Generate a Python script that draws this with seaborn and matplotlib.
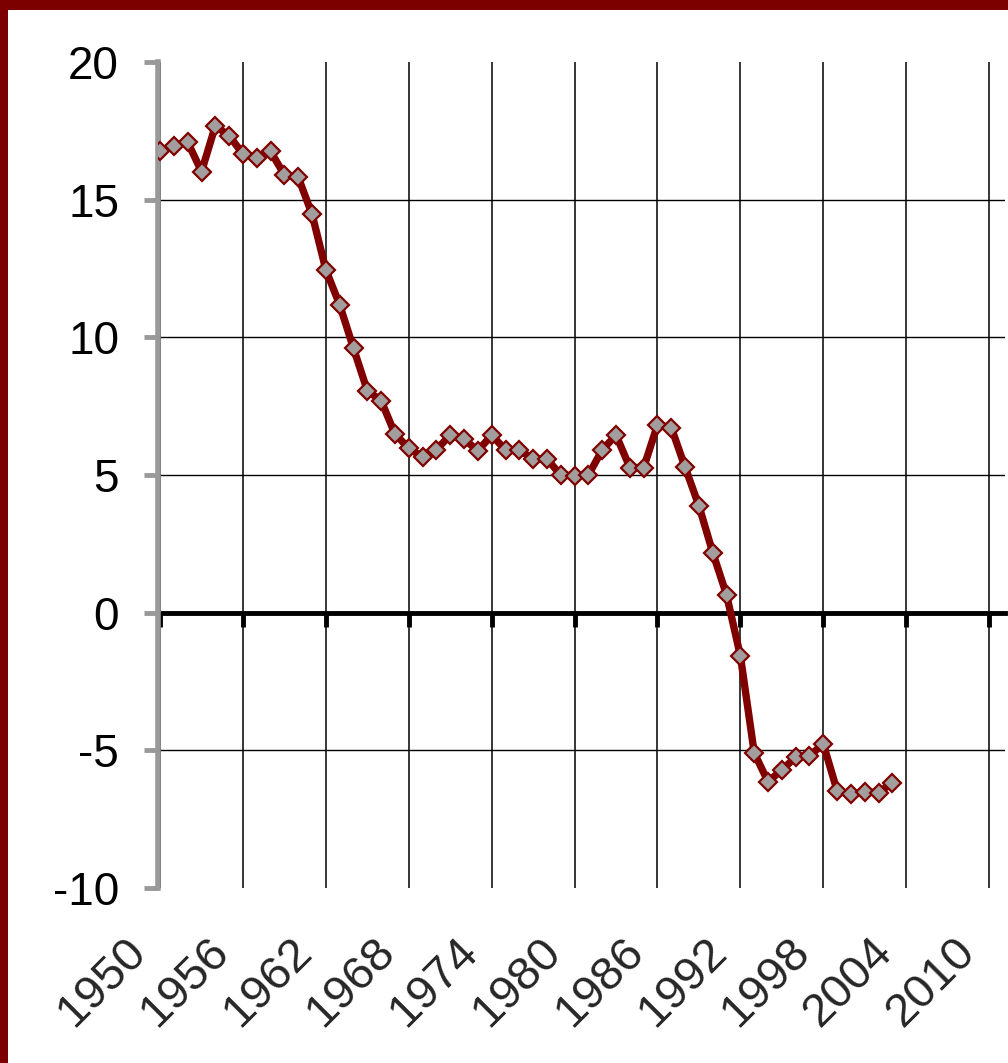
import matplotlib
matplotlib.use("Agg")
import matplotlib.pyplot as plt
import matplotlib.transforms as mtransforms
from matplotlib.patches import Rectangle
import seaborn as sns

# yearly values
years = list(range(1950, 2004))
values = [16.75, 16.96, 17.09, 16.02, 17.68, 17.32, 16.66, 16.50, 16.75, 15.90,
          15.81, 14.47, 12.45, 11.18, 9.60, 8.06, 7.70, 6.49, 5.97, 5.65,
          5.92, 6.45, 6.30, 5.88, 6.45, 5.91, 5.91, 5.58, 5.58, 5.00,
          4.97, 5.00, 5.91, 6.45, 5.27, 5.27, 6.82, 6.72, 5.28, 3.88,
          2.18, 0.64, -1.57, -5.09, -6.14, -5.71, -5.25, -5.20, -4.77, -6.47,
          -6.59, -6.50, -6.54, -6.17]
x_ticks = list(range(1950, 2011, 6))
y_ticks = [-10, -5, 0, 5, 10, 15, 20]

sns.set_style("white")
plt.rcParams['font.family'] = ['Liberation Sans', 'DejaVu Sans']
plt.rcParams['axes.unicode_minus'] = False

W, H = 1008, 1063
fig = plt.figure(figsize=(W / 100, H / 100), dpi=100)
fig.patch.set_facecolor('#7d0000')
# white slide area inside the dark red frame
fig.add_artist(Rectangle((8 / W, 0), 1, 1 - 10 / H, transform=fig.transFigure,
                         facecolor='white', edgecolor='none', zorder=0))

ax = fig.add_axes([158 / W, (H - 888) / H, 847 / W, 826 / H])
ax.set_facecolor('none')

sns.lineplot(x=years, y=values, ax=ax, color='#800000', linewidth=5.3,
             marker='D', markersize=9, markerfacecolor='#a39e9e',
             markeredgecolor='#800000', markeredgewidth=1.6, zorder=5)

ax.set_xlim(1949.85, 2011.15)
ax.set_ylim(-10, 20)
ax.set_xticks(x_ticks)
ax.set_yticks(y_ticks)

# grid
ax.grid(True, axis='x', color='black', linewidth=1.1)
ax.grid(False, axis='y')
for v in [-5, 5, 10, 15]:
    ax.axhline(v, color='black', linewidth=1.0, zorder=1)

for s in ['top', 'right', 'bottom']:
    ax.spines[s].set_visible(False)
ax.spines['left'].set_color('#999999')
ax.spines['left'].set_linewidth(4)
ax.spines['left'].set_zorder(3)

ax.tick_params(axis='y', left=True, direction='out', length=10, width=3.5,
               color='#999999', labelsize=33, pad=18, labelcolor='black')
ax.tick_params(axis='x', bottom=True, length=0, labelsize=34, pad=30)
for lab in ax.get_xticklabels():
    lab.set_rotation(45)
    lab.set_ha('right')
    lab.set_va('top')
    lab.set_transform(lab.get_transform() +
                      mtransforms.ScaledTranslation(-5 / 100, 0, fig.dpi_scale_trans))

# zero line with its own tick marks
zero = ax.secondary_xaxis(1 / 3)
zero.set_xticks(x_ticks)
zero.spines['bottom'].set_color('black')
zero.spines['bottom'].set_linewidth(3.5)
zero.spines['bottom'].set_zorder(4)
zero.tick_params(axis='x', bottom=True, direction='out', length=10, width=3.5,
                 color='black', labelbottom=False)

ax.set_xlabel('')
ax.set_ylabel('')

fig.savefig('out.png', dpi=100, facecolor=fig.get_facecolor())
